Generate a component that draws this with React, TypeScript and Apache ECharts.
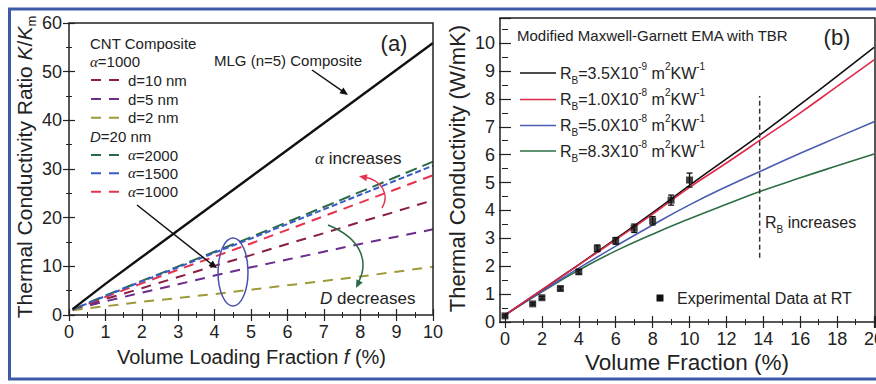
import React, { useEffect, useRef } from "react";
import * as echarts from "echarts";

const FONT = "'Liberation Sans', Arial, sans-serif";

// ---------- Panel (a) data ----------
const fracA = [0.1, 1, 2, 3, 4, 5, 6, 7, 8, 9, 10];
const mlg = [1.2, 6.4, 11.9, 17.4, 22.9, 28.4, 33.9, 39.4, 44.9, 50.4, 55.9];
const cntD10 = [1.1, 3.3, 5.5, 7.8, 10.1, 12.3, 14.6, 16.8, 19.1, 21.3, 23.6];
const cntD5 = [1.1, 2.8, 4.6, 6.3, 8.1, 9.8, 11.4, 13.0, 14.6, 16.1, 17.6];
const cntD2 = [1.0, 1.8, 2.7, 3.5, 4.3, 5.2, 6.1, 7.0, 7.9, 8.9, 9.9];
const alpha2000 = [1.1, 4.0, 7.0, 10.0, 13.0, 16.0, 19.1, 22.2, 25.3, 28.4, 31.5];
const alpha1500 = [1.1, 3.9, 6.9, 9.8, 12.8, 15.7, 18.7, 21.7, 24.7, 27.7, 30.7];
const alpha1000 = [1.1, 3.7, 6.5, 9.3, 12.0, 14.7, 17.5, 20.3, 23.1, 25.9, 28.7];

// ---------- Panel (b) data ----------
const fracB = [0, 2, 4, 6, 8, 10, 12, 14, 16, 18, 20];
const rb35e9 = [0.25, 1.15, 2.06, 2.98, 3.92, 4.9, 5.85, 6.8, 7.8, 8.82, 9.85];
const rb10e8 = [0.25, 1.15, 2.05, 2.95, 3.87, 4.83, 5.7, 6.6, 7.5, 8.45, 9.4];
const rb50e8 = [0.25, 1.1, 1.93, 2.72, 3.48, 4.2, 4.85, 5.45, 6.05, 6.62, 7.18];
const rb83e8 = [0.25, 1.08, 1.86, 2.55, 3.15, 3.7, 4.22, 4.72, 5.17, 5.6, 6.02];
const expX = [0, 1.5, 2, 3, 4, 5, 6, 7, 8, 9, 10];
const expY = [0.22, 0.65, 0.87, 1.2, 1.8, 2.64, 2.91, 3.36, 3.63, 4.37, 5.09];
const expErr = [0.04, 0.04, 0.05, 0.06, 0.08, 0.12, 0.12, 0.15, 0.15, 0.18, 0.25];
const rbMarkX = [13.8, 13.8];
const rbMarkY = [2.3, 8.1];

// axis ranges / ticks
const axA = { xMin: 0, xMax: 10, xInt: 1, yMin: 0, yMax: 60, yInt: 10 };
const axB = { xMin: 0, xMax: 20.05, xInt: 2, yMin: 0, yMax: 10.9, yInt: 1 };

const zip = (xs: number[], ys: number[]) => xs.map((x, i) => [x, ys[i]]);

const INK = "#222";

function head(tx: number, ty: number, fx: number, fy: number, color: string, len = 8, hw = 3.5) {
  const dx = tx - fx, dy = ty - fy;
  const L = Math.hypot(dx, dy);
  const ux = dx / L, uy = dy / L;
  const bx = tx - ux * len, by = ty - uy * len;
  return {
    type: "polygon", z: 60,
    shape: { points: [[tx, ty], [bx - uy * hw, by + ux * hw], [bx + uy * hw, by - ux * hw]] },
    style: { fill: color },
  };
}

function txt(x: number, y: number, text: string, size: number, extra: any = {}, rich?: any) {
  return {
    type: "text", z: 60, x, y, rotation: extra.rotation || 0,
    style: {
      text, fontSize: size, fontFamily: FONT, fill: extra.fill || INK,
      textAlign: extra.align || "left", textVerticalAlign: "middle",
      rich,
    },
  };
}

function richSet(size: number, lh: number, small: number) {
  return {
    n: { fontSize: size, fontFamily: FONT, lineHeight: lh, fill: INK },
    i: { fontSize: size, fontFamily: FONT, fontStyle: "italic", lineHeight: lh, fill: INK },
    g: { fontSize: size, fontFamily: "'Liberation Serif', serif", fontStyle: "italic", lineHeight: lh, fill: INK },
    sub: { fontSize: small, fontFamily: FONT, lineHeight: small, verticalAlign: "bottom", fill: INK },
    sup: { fontSize: small, fontFamily: FONT, lineHeight: small, verticalAlign: "top", fill: INK },
  };
}

const intOnly = (v: number) => (Math.abs(v - Math.round(v)) < 1e-6 ? String(Math.round(v)) : "");

function valueAxis(grid: number, pos: string, min: number, max: number, interval: number, labels: boolean, margin: number, offset = 0) {
  return {
    type: "value", gridIndex: grid, position: pos, min, max, interval, offset,
    axisLine: { show: false },
    axisTick: { show: true, inside: true, length: 6, lineStyle: { color: INK, width: 1.2 } },
    minorTick: { show: true, splitNumber: 2, length: 3, lineStyle: { color: INK, width: 1 } },
    axisLabel: { show: labels, fontSize: 18, fontFamily: FONT, color: INK, margin, formatter: intOnly },
    splitLine: { show: false },
    minorSplitLine: { show: false },
  };
}

export default function App() {
  const ref = useRef<HTMLDivElement>(null);
  useEffect(() => {
    if (!ref.current) return;
    const chart = echarts.init(ref.current, undefined, { renderer: "svg" });

    const gA = { left: 69, top: 23, width: 364, height: 292 };
    const gB = { left: 505, top: 18, width: 370, height: 304 };

    const dashLine = (name: string, xs: number[], ys: number[], color: string, dash: number[]) => ({
      name, type: "line", xAxisIndex: 0, yAxisIndex: 0, data: zip(xs, ys),
      symbol: "none", lineStyle: { color, width: 2, type: dash }, z: 3,
    });
    const solidB = (name: string, ys: number[], color: string) => ({
      name, type: "line", xAxisIndex: 2, yAxisIndex: 2, data: zip(fracB, ys),
      symbol: "none", smooth: true, lineStyle: { color, width: 1.6 }, z: 3,
    });

    const colA = { d10: "#8a1f45", d5: "#6b2c8c", d2: "#9c9a3a", a2000: "#2a6a45", a1500: "#3a5cc8", a1000: "#e8334f" };
    const colB = { k: "#111", r: "#e0284a", b: "#4b5cb0", g: "#2d6e45" };

    const rA = richSet(15, 20, 10);
    const legendRowsA = [
      { y: 80, c: colA.d10, t: "{n|d=10 nm}" },
      { y: 99, c: colA.d5, t: "{n|d=5 nm}" },
      { y: 117.7, c: colA.d2, t: "{n|d=2 nm}" },
      { y: 155, c: colA.a2000, t: "{g|α}{n|=2000}" },
      { y: 173.3, c: colA.a1500, t: "{g|α}{n|=1500}" },
      { y: 191.7, c: colA.a1000, t: "{g|α}{n|=1000}" },
    ];
    const rLeg = richSet(16, 24, 10);
    const legendRowsB = [
      { y: 73, c: colB.k, t: "{n|R}{sub|B}{n|=3.5X10}{sup|-9}{n| m}{sup|2}{n|KW}{sup|-1}" },
      { y: 99.5, c: colB.r, t: "{n|R}{sub|B}{n|=1.0X10}{sup|-8}{n| m}{sup|2}{n|KW}{sup|-1}" },
      { y: 125.5, c: colB.b, t: "{n|R}{sub|B}{n|=5.0X10}{sup|-8}{n| m}{sup|2}{n|KW}{sup|-1}" },
      { y: 151, c: colB.g, t: "{n|R}{sub|B}{n|=8.3X10}{sup|-8}{n| m}{sup|2}{n|KW}{sup|-1}" },
    ];

    const yTitleA = txt(24, 167, "{n|Thermal Conductivity Ratio }{i|K}{n|/}{i|K}{sub|m}", 21, { rotation: Math.PI / 2, align: "center" }, richSet(21, 28, 13));

    const graphics: any[] = [
      // blue figure frame
      { type: "polyline", z: 70, shape: { points: [[876, 9], [9.5, 9], [9.5, 379], [876, 379]] }, style: { stroke: "#3c5aa8", lineWidth: 3, fill: "none" } },
      // plot boxes
      { type: "rect", z: 10, shape: { x: 69, y: 23, width: 364, height: 292 }, style: { fill: "none", stroke: INK, lineWidth: 1.5 } },
      { type: "rect", z: 10, shape: { x: 500, y: 18, width: 375, height: 304 }, style: { fill: "none", stroke: INK, lineWidth: 1.5 } },
      // axis titles
      txt(251.5, 357, "{n|Volume Loading Fraction }{i|f}{n| (%)}", 20, { align: "center" }, richSet(20, 24, 12)),
      yTitleA,
      txt(687, 362, "Volume Fraction (%)", 22.5, { align: "center" }),
      txt(457, 168.5, "Thermal Conductivity (W/mK)", 22, { align: "center", rotation: Math.PI / 2 }),
      // panel (a) annotations
      txt(90, 43.3, "CNT Composite", 15),
      txt(90, 61.7, "{g|α}{n|=1000}", 15, {}, rA),
      txt(90, 136.7, "{i|D}{n|=20 nm}", 15, {}, rA),
      ...legendRowsA.flatMap((r) => [
        { type: "line", z: 60, shape: { x1: 91, y1: r.y, x2: 120, y2: r.y }, style: { stroke: r.c, lineWidth: 2, lineDash: [10, 8] } },
        txt(128, r.y, r.t, 15, {}, rA),
      ]),
      txt(214, 60, "MLG (n=5) Composite", 15),
      txt(394, 43, "(a)", 22, { align: "center" }),
      txt(315, 158, "{g|α}{n| increases}", 17, {}, richSet(17, 22, 11)),
      txt(320, 298, "{i|D}{n| decreases}", 17, {}, richSet(17, 22, 11)),
      { type: "line", z: 60, shape: { x1: 312, y1: 70, x2: 346, y2: 93.6 }, style: { stroke: "#111", lineWidth: 1.5 } },
      head(348, 95, 312, 70, "#111"),
      { type: "line", z: 60, shape: { x1: 137, y1: 205, x2: 214, y2: 266 }, style: { stroke: "#111", lineWidth: 1.5 } },
      head(217, 268.3, 137, 205, "#111"),
      { type: "ellipse", z: 60, shape: { cx: 233, cy: 272, rx: 15, ry: 34 }, style: { fill: "none", stroke: "#4a52b0", lineWidth: 1.5 } },
      { type: "bezierCurve", z: 60, shape: { x1: 382, y1: 208, cpx1: 390, cpy1: 195, cpx2: 382, cpy2: 180, x2: 364, y2: 177 }, style: { stroke: "#e8334f", lineWidth: 1.5, fill: "none" } },
      head(359, 176.3, 380, 180, "#e8334f"),
      { type: "bezierCurve", z: 60, shape: { x1: 328, y1: 225, cpx1: 365, cpy1: 240, cpx2: 368, cpy2: 265, x2: 358, y2: 283 }, style: { stroke: "#2a6a45", lineWidth: 1.5, fill: "none" } },
      head(356, 288, 366, 268, "#2a6a45"),
      // panel (b) annotations
      txt(517, 35, "Modified Maxwell-Garnett EMA with TBR", 15),
      txt(837, 37, "(b)", 22, { align: "center" }),
      ...legendRowsB.flatMap((r) => [
        { type: "line", z: 60, shape: { x1: 520, y1: r.y, x2: 556, y2: r.y }, style: { stroke: r.c, lineWidth: 1.6 } },
        txt(560, r.y, r.t, 16, {}, rLeg),
      ]),
      { type: "rect", z: 60, shape: { x: 656.5, y: 294.5, width: 7, height: 7 }, style: { fill: "#111" } },
      txt(677, 298, "Experimental Data at RT", 16),
      txt(765, 222, "{n|R}{sub|B}{n| increases}", 16, {}, rLeg),
    ];

    const option: any = {
      animation: false,
      backgroundColor: "#fff",
      grid: [
        { ...gA, containLabel: false, outerBoundsMode: "none" },
        { ...gB, containLabel: false, outerBoundsMode: "none" },
      ],
      xAxis: [
        valueAxis(0, "bottom", axA.xMin, axA.xMax, axA.xInt, true, 8),
        valueAxis(0, "top", axA.xMin, axA.xMax, axA.xInt, false, 8),
        valueAxis(1, "bottom", axB.xMin, axB.xMax, axB.xInt, true, 8),
        valueAxis(1, "top", axB.xMin, axB.xMax, axB.xInt, false, 8),
      ],
      yAxis: [
        valueAxis(0, "left", axA.yMin, axA.yMax, axA.yInt, true, 7),
        valueAxis(0, "right", axA.yMin, axA.yMax, axA.yInt, false, 7),
        valueAxis(1, "left", axB.yMin, axB.yMax, axB.yInt, true, 5, 5),
        valueAxis(1, "right", axB.yMin, axB.yMax, axB.yInt, false, 5),
      ],
      series: [
        { name: "MLG (n=5) Composite", type: "line", xAxisIndex: 0, yAxisIndex: 0, data: zip(fracA, mlg), symbol: "none", lineStyle: { color: "#111", width: 2.4 }, z: 4 },
        dashLine("d=10 nm", fracA, cntD10, colA.d10, [10, 8]),
        dashLine("d=5 nm", fracA, cntD5, colA.d5, [10, 8]),
        dashLine("d=2 nm", fracA, cntD2, colA.d2, [10, 8]),
        dashLine("α=1000", fracA, alpha1000, colA.a1000, [10, 7]),
        dashLine("α=2000", fracA, alpha2000, colA.a2000, [12, 6]),
        dashLine("α=1500", fracA, alpha1500, colA.a1500, [6, 3]),
        solidB("RB=8.3e-8", rb83e8, colB.g),
        solidB("RB=5.0e-8", rb50e8, colB.b),
        solidB("RB=3.5e-9", rb35e9, colB.k),
        solidB("RB=1.0e-8", rb10e8, colB.r),
        {
          name: "RB increases", type: "line", xAxisIndex: 2, yAxisIndex: 2, data: zip(rbMarkX, rbMarkY),
          symbol: "none", lineStyle: { color: "#333", width: 1.5, type: [5, 3] }, z: 3,
        },
        {
          name: "err", type: "custom", xAxisIndex: 2, yAxisIndex: 2, z: 5,
          data: expX.map((x, i) => [x, expY[i], expErr[i]]),
          renderItem: (params: any, api: any) => {
            const x = api.value(0), y = api.value(1), e = api.value(2);
            const top = api.coord([x, y + e]);
            const bot = api.coord([x, y - e]);
            const st = { stroke: "#111", lineWidth: 1.3 };
            return {
              type: "group",
              children: [
                { type: "line", shape: { x1: top[0], y1: top[1], x2: bot[0], y2: bot[1] }, style: st },
                { type: "line", shape: { x1: top[0] - 3, y1: top[1], x2: top[0] + 3, y2: top[1] }, style: st },
                { type: "line", shape: { x1: bot[0] - 3, y1: bot[1], x2: bot[0] + 3, y2: bot[1] }, style: st },
              ],
            };
          },
        },
        {
          name: "Experimental Data at RT", type: "scatter", xAxisIndex: 2, yAxisIndex: 2,
          data: zip(expX, expY), symbol: "rect", symbolSize: 7, itemStyle: { color: "#111" }, z: 6,
        },
      ],
      graphic: graphics,
    };
    chart.setOption(option);
    return () => chart.dispose();
  }, []);
  return <div ref={ref} style={{ position: "fixed", left: 0, top: 0, width: 876, height: 384, background: "#fff" }} />;
}
